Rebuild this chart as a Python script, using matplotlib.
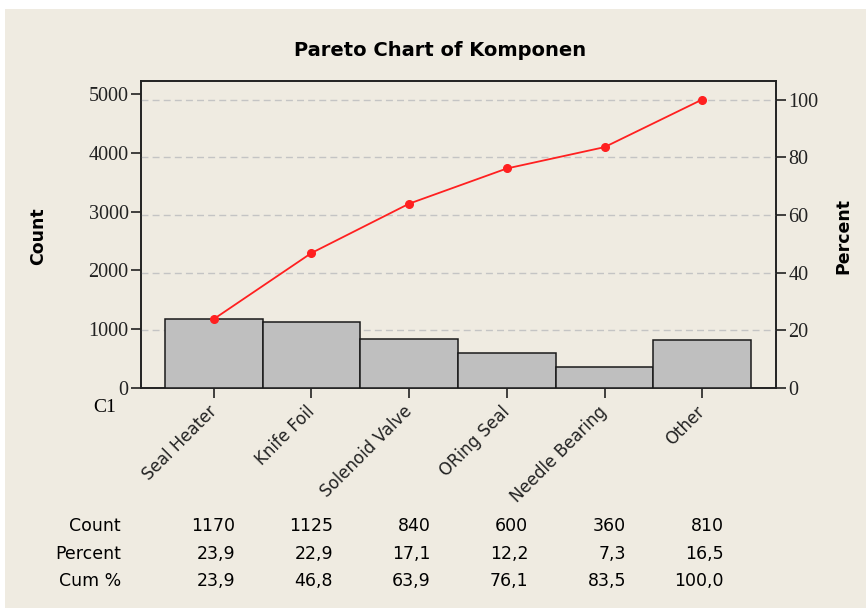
import matplotlib.pyplot as plt
from matplotlib.patches import Rectangle
from matplotlib.transforms import blended_transform_factory

# Data
categories = ['Seal Heater', 'Knife Foil', 'Solenoid Valve', 'ORing Seal', 'Needle Bearing', 'Other']
counts = [1170, 1125, 840, 600, 360, 810]
percent = [23.9, 22.9, 17.1, 12.2, 7.3, 16.5]
cum_pct = [23.9, 46.8, 63.9, 76.1, 83.5, 100.0]
count_ticks = [0, 1000, 2000, 3000, 4000, 5000]
pct_ticks = [0, 20, 40, 60, 80, 100]

bg = '#efebe1'
total = sum(counts)
count_top = 5220

fig = plt.figure(figsize=(8.66, 6.08), dpi=100, facecolor='white')
fig.patches.append(Rectangle((5 / 866, 0), 1, 1 - 9 / 608, transform=fig.transFigure,
                             facecolor=bg, edgecolor='none', zorder=-10))

ax = fig.add_axes([141 / 866, 1 - 388 / 608, 635 / 866, 307 / 608])
ax2 = ax.twinx()
ax.set_zorder(ax2.get_zorder() + 1)
ax.patch.set_visible(False)
ax2.patch.set_facecolor('white')

x = list(range(len(categories)))
ax.set_xlim(-0.745, 5.755)
ax.set_ylim(0, count_top)
ax2.set_ylim(0, count_top / total * 100)

# gridlines follow the percent axis
for p in pct_ticks[1:]:
    ax.axhline(p * total / 100, color='#c4c4c4', linestyle=(0, (5, 3)), linewidth=1.0, zorder=1)

ax.bar(x, counts, width=1.0, color='#bfbfbf', edgecolor='#1a1a1a', linewidth=1.1, zorder=3)
ax.plot(x, [c * total / 100 for c in cum_pct], color='#ff2020', linewidth=1.3,
        marker='o', markersize=5.5, zorder=5, clip_on=False)

ax.set_yticks(count_ticks)
ax.set_yticklabels([str(t) for t in count_ticks], family='Liberation Serif', fontsize=14.5)
ax2.set_yticks(pct_ticks)
ax2.set_yticklabels([str(t) for t in pct_ticks], family='Liberation Serif', fontsize=14.5)
ax.set_xticks(x)
ax.set_xticklabels(categories, rotation=45, ha='right', va='center', rotation_mode='anchor',
                   fontsize=12)
ax.tick_params(axis='x', length=7, width=1.2, pad=8, colors='#222222')
ax.tick_params(axis='y', length=7, width=1.2, pad=2, colors='#222222')
ax2.tick_params(axis='y', length=7, width=1.2, pad=2, colors='#222222')
for a in (ax, ax2):
    for s in a.spines.values():
        s.set_color('#222222')
        s.set_linewidth(1.2)

fig.text(440 / 866, 1 - 50 / 608, 'Pareto Chart of Komponen', ha='center', va='center',
         fontsize=14, fontweight='bold')
fig.text(38 / 866, 1 - 236 / 608, 'Count', rotation=90, ha='center', va='center',
         fontsize=12.5, fontweight='bold')
fig.text(843 / 866, 1 - 236 / 608, 'Percent', rotation=90, ha='center', va='center',
         fontsize=12.5, fontweight='bold')
fig.text(116 / 866, 1 - 408 / 608, 'C1', ha='right', va='center', family='Liberation Serif',
         fontsize=14)

# table below the chart
trans = blended_transform_factory(ax.transData, fig.transFigure)
rows = [('Count', [str(c) for c in counts]),
        ('Percent', [f'{p:.1f}'.replace('.', ',') for p in percent]),
        ('Cum %', [f'{p:.1f}'.replace('.', ',') for p in cum_pct])]
row_y = [526, 554, 581]
for (label, vals), yp in zip(rows, row_y):
    fig.text(121 / 866, 1 - yp / 608, label, ha='right', va='center', fontsize=12.5)
    for i, v in enumerate(vals):
        ax.text(i + 0.22, 1 - yp / 608, v, transform=trans, ha='right', va='center',
                fontsize=12.5, clip_on=False)

fig.savefig('out.png', dpi=100, facecolor=fig.get_facecolor())
